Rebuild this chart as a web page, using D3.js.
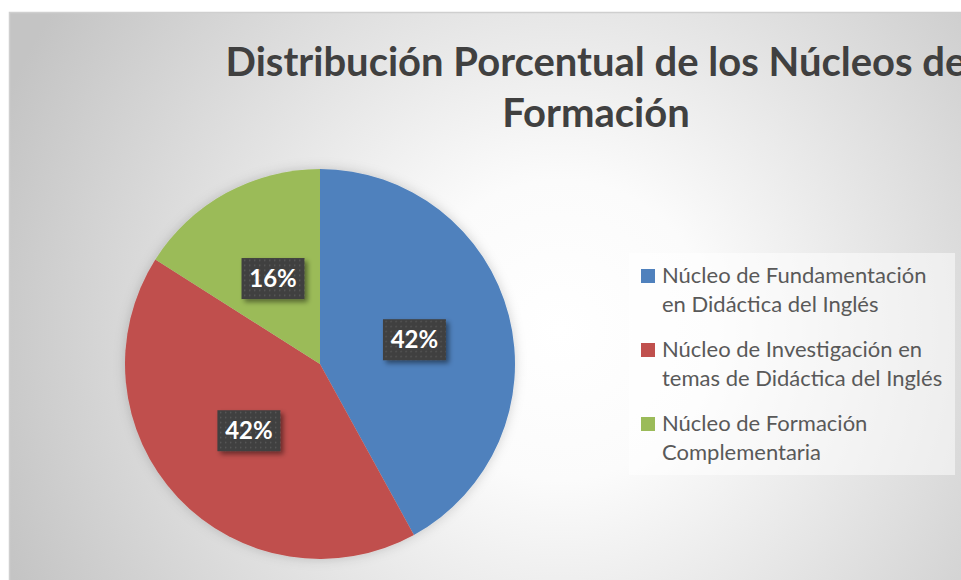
<!DOCTYPE html>
<html>
<head>
<meta charset="utf-8">
<script src="https://cdn.jsdelivr.net/npm/d3@7"></script>
<style>
  html, body { margin: 0; padding: 0; background: #fff; overflow: hidden; }
  svg { display: block; }
</style>
</head>
<body>
<script>
// Data
const categories = [
  'Núcleo de Fundamentación en Didáctica del Inglés',
  'Núcleo de Investigación en temas de Didáctica del Inglés',
  'Núcleo de Formación Complementaria'
];
const legendLines = [
  ['Núcleo de Fundamentación', 'en Didáctica del Inglés'],
  ['Núcleo de Investigación en', 'temas de Didáctica del Inglés'],
  ['Núcleo de Formación', 'Complementaria']
];
const values = [42, 42, 16];
const colors = ['#4f81bd', '#c0504d', '#9bbb59'];
const titleLines = ['Distribución Porcentual de los Núcleos de', 'Formación'];

const w = 961;
const h = 580;

const svg = d3.select('body')
  .append('svg')
  .attr('width', w)
  .attr('height', h);

const defs = svg.append('defs');

// background radial gradient
const bg = defs.append('radialGradient')
  .attr('id', 'bg')
  .attr('gradientUnits', 'userSpaceOnUse')
  .attr('cx', 560).attr('cy', 330).attr('r', 600);
bg.append('stop').attr('offset', '0').attr('stop-color', '#ffffff');
bg.append('stop').attr('offset', '0.25').attr('stop-color', '#fbfbfb');
bg.append('stop').attr('offset', '1').attr('stop-color', '#c4c4c4');

// dotted pattern for the label boxes
const pat = defs.append('pattern')
  .attr('id', 'dots')
  .attr('patternUnits', 'userSpaceOnUse')
  .attr('width', 5).attr('height', 5);
pat.append('rect').attr('width', 5).attr('height', 5).attr('fill', '#3f3f3f');
pat.append('rect').attr('x', 1).attr('y', 1).attr('width', 1.4).attr('height', 1.4).attr('fill', '#5c5c5c');

const shadow = defs.append('filter').attr('id', 'shadow')
  .attr('x', '-30%').attr('y', '-30%').attr('width', '160%').attr('height', '160%');
shadow.append('feDropShadow')
  .attr('dx', 3).attr('dy', 3).attr('stdDeviation', 2.5)
  .attr('flood-color', '#000').attr('flood-opacity', 0.45);

const pieShadow = defs.append('filter').attr('id', 'pieShadow')
  .attr('x', '-20%').attr('y', '-20%').attr('width', '140%').attr('height', '140%');
pieShadow.append('feDropShadow')
  .attr('dx', 0).attr('dy', 0).attr('stdDeviation', 6)
  .attr('flood-color', '#000').attr('flood-opacity', 0.18);

// chart area
svg.append('rect')
  .attr('x', 9.5).attr('y', 12.5)
  .attr('width', 1000).attr('height', 620)
  .attr('fill', 'url(#bg)')
  .attr('stroke', '#cfcfcf')
  .attr('stroke-width', 1.5);

// title
const title = svg.append('text')
  .attr('id', 'title')
  .attr('text-anchor', 'middle')
  .attr('font-family', 'Lato, "Open Sans", sans-serif')
  .attr('font-weight', 'bold')
  .attr('font-size', 40)
  .attr('fill', '#404040');
title.selectAll('tspan')
  .data(titleLines)
  .join('tspan')
  .attr('x', 596)
  .attr('y', (d, i) => 76 + i * 51)
  .text(d => d);

// pie
const cx = 320, cy = 364, r = 195;
const pie = d3.pie().sort(null).value(d => d);
const arc = d3.arc().innerRadius(0).outerRadius(r);
const arcs = pie(values);

const g = svg.append('g').attr('transform', `translate(${cx},${cy})`);
g.append('g')
  .attr('filter', 'url(#pieShadow)')
  .selectAll('path')
  .data(arcs)
  .join('path')
  .attr('d', arc)
  .attr('fill', (d, i) => colors[i]);

// data labels
const fmt = d3.format('.0%');
const total = d3.sum(values);
const labels = g.selectAll('.label')
  .data(arcs)
  .join('g')
  .attr('class', 'label')
  .attr('transform', d => `translate(${arc.centroid(d)})`);
labels.append('rect')
  .attr('x', -31.5).attr('y', -20.5)
  .attr('width', 63).attr('height', 41)
  .attr('fill', 'url(#dots)')
  .attr('filter', 'url(#shadow)');
labels.append('text')
  .attr('text-anchor', 'middle')
  .attr('dy', '0.36em')
  .attr('font-family', 'Lato, "Open Sans", sans-serif')
  .attr('font-weight', 'bold')
  .attr('font-size', 24)
  .attr('fill', '#fff')
  .text(d => fmt(d.value / total));

// legend
const legend = svg.append('g').attr('id', 'legend');
legend.append('rect')
  .attr('x', 629).attr('y', 253)
  .attr('width', 326).attr('height', 222)
  .attr('fill', '#ffffff')
  .attr('fill-opacity', 0.5);

const items = legend.selectAll('.item')
  .data(categories)
  .join('g')
  .attr('class', 'item')
  .attr('transform', (d, i) => `translate(641,${269 + i * 74})`);
items.append('rect')
  .attr('width', 14).attr('height', 14)
  .attr('fill', (d, i) => colors[i]);
items.append('text')
  .attr('font-family', 'Lato, "Open Sans", sans-serif')
  .attr('font-size', 22)
  .attr('fill', '#595959')
  .selectAll('tspan')
  .data((d, i) => legendLines[i])
  .join('tspan')
  .attr('x', 21)
  .attr('y', (d, j) => 14 + j * 29)
  .text(d => d);
</script>
</body>
</html>
